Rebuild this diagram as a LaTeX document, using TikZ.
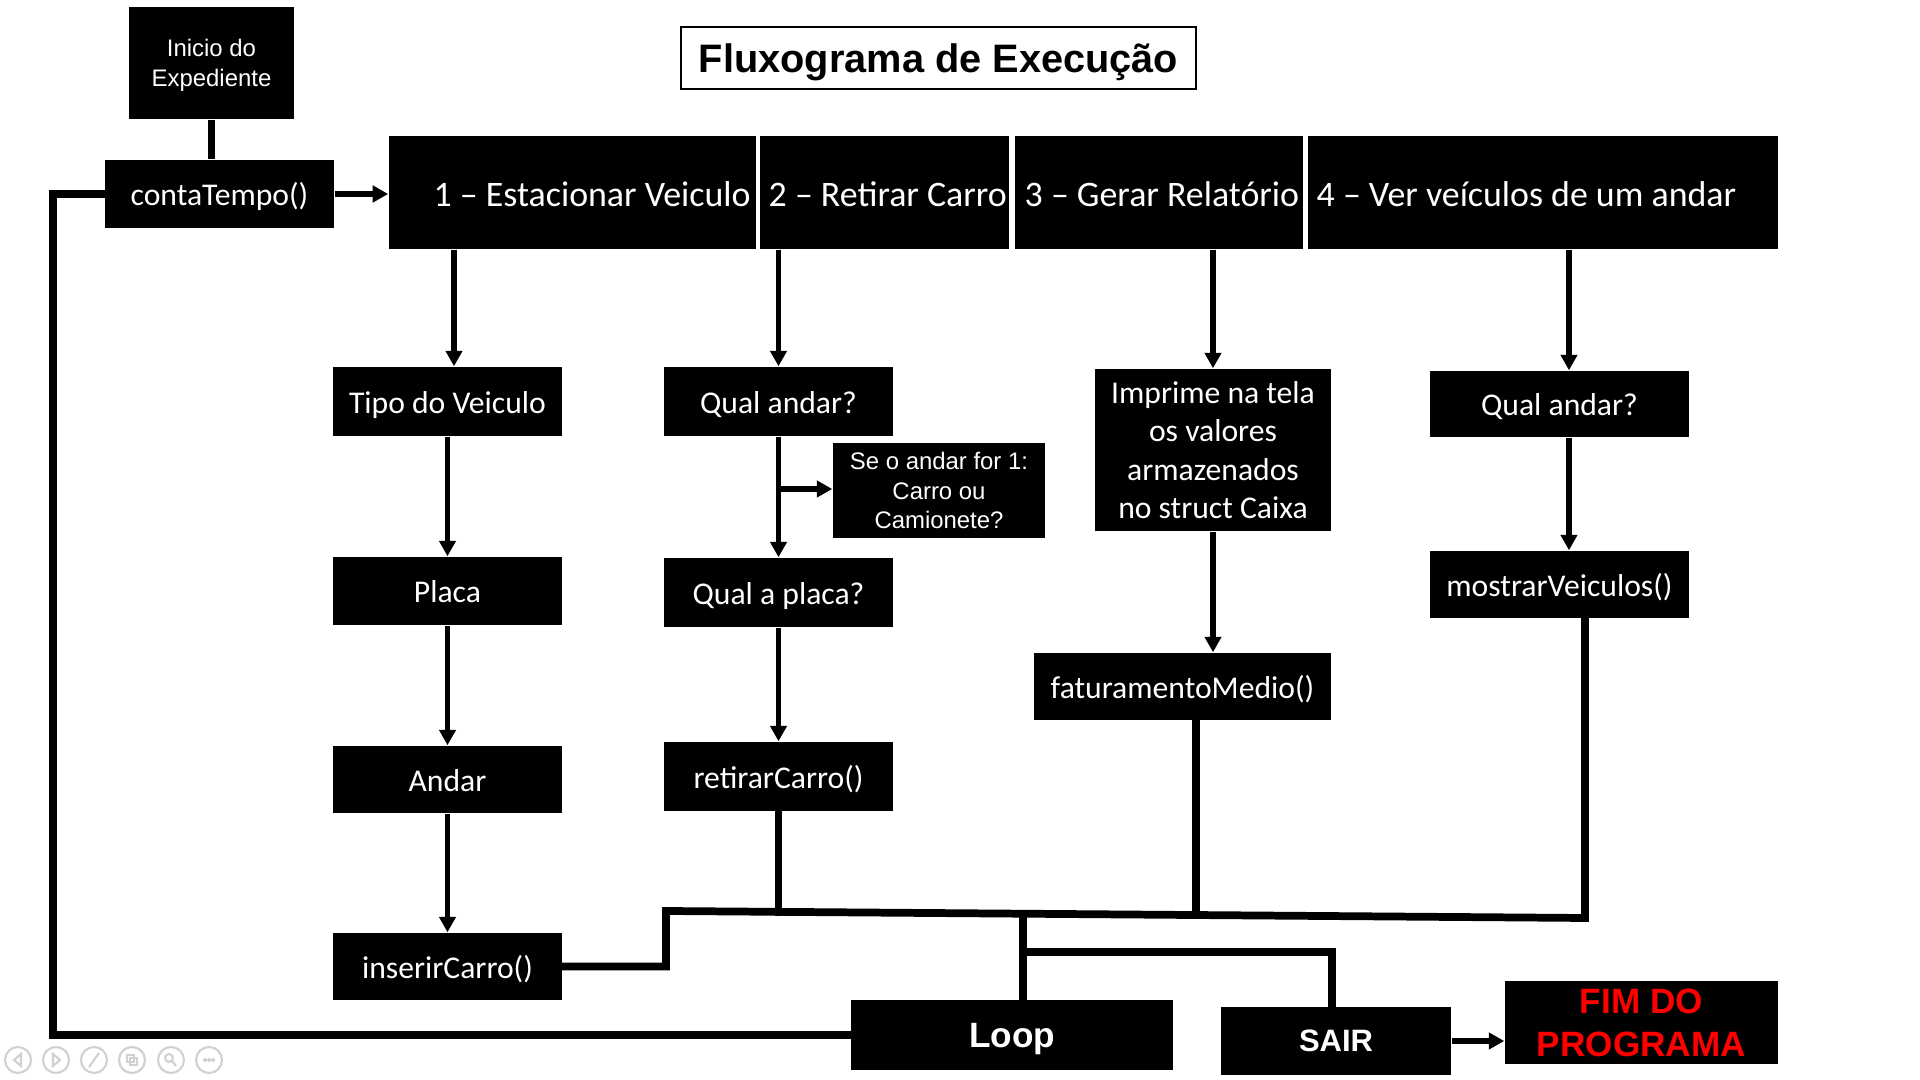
\documentclass[tikz,border=0pt]{standalone}
\usepackage{fontspec}
\setmainfont{Carlito}
\newfontfamily\arialf{Liberation Sans}
\usetikzlibrary{arrows.meta}
\begin{document}
\begin{tikzpicture}[x=0.01cm,y=-0.01cm,
  box/.style={fill=black,text=white,inner sep=0pt,align=center,font=\fontsize{9}{10.9}\selectfont},
  one/.style={box,text height=6.6pt,text depth=0pt},
  topbox/.style={fill=black,inner sep=0pt,minimum height=11.3mm},
  toptext/.style={text=white,inner sep=0pt,anchor=west,font=\fontsize{10.2}{12}\selectfont},
  smallbox/.style={box,font=\arialf\fontsize{6.8}{8.4}\selectfont},
  arr/.style={line width=1.7pt,-{Triangle[width=4.6pt,length=4.4pt]}},
  ln/.style={line width=2.1pt},
  bus/.style={line width=2.2pt,line cap=rect,line join=miter},
  icon/.style={draw=black!18,line width=0.6pt}]
\useasboundingbox[fill=white] (0,0) rectangle (1920,1080);

% title
\node[draw=black,line width=0.6pt,inner sep=0pt,minimum width=51.5mm,minimum height=6.2mm,
      text height=8.1pt,text depth=0pt,
      font=\arialf\bfseries\fontsize{11.3}{13}\selectfont] (title) at (938.5,58) {Fluxograma de Execução};

% start
\node[smallbox,minimum width=16.5mm,minimum height=11.2mm,text depth=0pt] (inicio) at (211.5,63) {Inicio do\\Expediente};
\node[one,minimum width=22.9mm,minimum height=6.8mm] (conta) at (219.5,194) {contaTempo()};

% top menu row
\node[topbox,minimum width=36.7mm] (box1) at (572.5,192.5) {};
\node[topbox,minimum width=24.9mm] (box2) at (884.5,192.5) {};
\node[topbox,minimum width=28.8mm] (box3) at (1159,192.5) {};
\node[topbox,minimum width=47.0mm] (box4) at (1543,192.5) {};
\node[toptext] (t1) at (433,194) {1 – Estacionar Veiculo};
\node[toptext] (t2) at (768,194) {2 – Retirar Carro};
\node[toptext] (t3) at (1024,194) {3 – Gerar Relatório};
\node[toptext] (t4) at (1316,194) {4 – Ver veículos de um andar};

% column 1
\node[one,minimum width=22.9mm,minimum height=6.9mm] (tipo) at (447.5,401.5) {Tipo do Veiculo};
\node[one,minimum width=22.9mm,minimum height=6.8mm] (placa) at (447.5,591) {Placa};
\node[one,minimum width=22.9mm,minimum height=6.7mm] (andar) at (447.5,779.5) {Andar};
\node[one,minimum width=22.9mm,minimum height=6.7mm] (inserir) at (447.5,966.5) {inserirCarro()};

% column 2
\node[one,minimum width=22.9mm,minimum height=6.9mm] (qa2) at (778.5,401.5) {Qual andar?};
\node[smallbox,minimum width=21.2mm,minimum height=9.4mm] (se) at (939,490.5) {Se o andar for 1:\\Carro ou\\Camionete?};
\node[one,minimum width=22.9mm,minimum height=6.9mm] (qp2) at (778.5,592.5) {Qual a placa?};
\node[one,minimum width=22.9mm,minimum height=6.9mm] (ret) at (778.5,776.5) {retirarCarro()};

% column 3
\node[box,minimum width=23.6mm,minimum height=16.2mm] (imp) at (1213,450) {Imprime na tela\\os valores\\armazenados\\no struct Caixa};
\node[one,minimum width=29.7mm,minimum height=6.7mm] (fat) at (1182.5,686.5) {faturamentoMedio()};

% column 4
\node[one,minimum width=25.9mm,minimum height=6.6mm] (qa4) at (1559.5,404) {Qual andar?};
\node[one,minimum width=25.9mm,minimum height=6.7mm] (mv) at (1559.5,584.5) {mostrarVeiculos()};

% bottom
\node[box,minimum width=32.2mm,minimum height=7.0mm,text height=7.2pt,text depth=0pt,
      font=\arialf\bfseries\fontsize{10}{12}\selectfont] (loop) at (1012,1035) {Loop};
\node[box,minimum width=23.0mm,minimum height=6.8mm,font=\arialf\bfseries\fontsize{8.8}{10}\selectfont] (sair) at (1336,1041) {SAIR};
\node[box,minimum width=27.3mm,minimum height=8.3mm,text=red,font=\arialf\bfseries\fontsize{10}{12.2}\selectfont] (fim) at (1641.5,1022.5) {FIM DO\\PROGRAMA};

% helper coordinates
\coordinate (lx) at (53,0);
\coordinate (c1) at (454,0);
\coordinate (c4) at (1569,0);
\coordinate (sj) at (778.5,489);
\coordinate (bL) at (666,911);
\coordinate (bR) at (1585,918);
\coordinate (b2) at (778.5,912);
\coordinate (bJ) at (1023,913.8);
\coordinate (b3) at (1196,915);
\coordinate (sJ) at (1023,952);
\coordinate (sR) at (1332,952);

% connectors
\draw[ln] (inicio.south) -- (inicio.south |- conta.north);
\draw[arr] (conta.east) -- (conta.east -| box1.west);
\draw[arr] (box1.south -| c1) -- (tipo.north -| c1);
\draw[arr] (tipo.south) -- (placa.north);
\draw[arr] (placa.south) -- (andar.north);
\draw[arr] (andar.south) -- (inserir.north);
\draw[arr] (qa2.north |- box2.south) -- (qa2.north);
\draw[arr] (qa2.south) -- (qp2.north);
\draw[arr] (sj) -- (sj -| se.west);
\draw[arr] (qp2.south) -- (ret.north);
\draw[arr] (imp.north |- box3.south) -- (imp.north);
\draw[arr] (imp.south) -- (imp.south |- fat.north);
\draw[arr] (box4.south -| c4) -- (qa4.north -| c4);
\draw[arr] (qa4.south -| c4) -- (mv.north -| c4);

\draw[bus] (ret.south) -- (b2);
\draw[bus] (fat.south -| b3) -- (b3);
\draw[bus] (mv.south -| bR) -- (bR) -- (bL) -- (bL |- inserir.east) -- (inserir.east);
\draw[bus] (bJ) -- (bJ |- loop.north);
\draw[bus] (sJ) -- (sR) -- (sR |- sair.north);
\draw[bus] (loop.west) -| (lx |- conta.west) -- (conta.west);
\draw[arr] (sair.east) -- (sair.east -| fim.west);

% faint slideshow controls
\foreach \cx in {18,56,94,132,171,209} \draw[icon] (\cx,1060) circle (13);
\draw[icon] (21,1054) -- (14,1060) -- (21,1066) -- cycle;
\draw[icon] (53,1054) -- (60,1060) -- (53,1066) -- cycle;
\draw[icon] (89,1067) -- (99,1053);
\draw[icon] (127,1055) rectangle (134,1062) (130,1058) rectangle (137,1065);
\draw[icon] (169,1058) circle (4) (172,1061) -- (176,1066);
\foreach \dx in {-4,0,4} \draw[icon] (209+\dx,1060) circle (1);
\end{tikzpicture}
\end{document}
